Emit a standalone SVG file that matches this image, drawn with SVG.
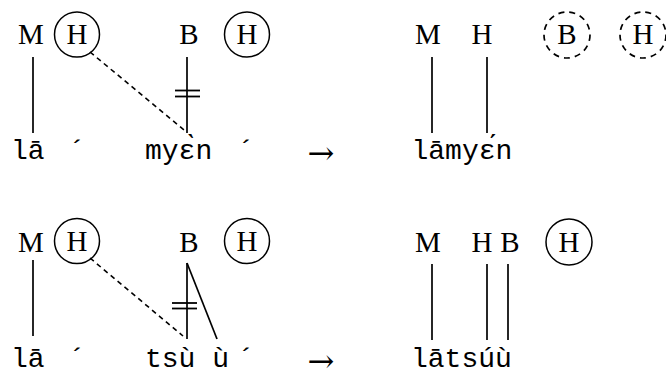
<svg xmlns="http://www.w3.org/2000/svg" width="666" height="374" viewBox="0 0 666 374">
  <style>
    .tone { font-family: "Liberation Serif", "DejaVu Serif", serif; font-size: 29px; fill: #000; text-anchor: middle; }
    .seg { font-family: "Liberation Mono", "DejaVu Sans Mono", monospace; font-size: 28px; fill: #000; }
    .acc { font-family: "Liberation Mono", "DejaVu Sans Mono", monospace; font-size: 28px; fill: #000; text-anchor: middle; }
    .arrow { font-family: "DejaVu Serif", "Liberation Serif", serif; font-size: 32px; fill: #000; text-anchor: middle; }
    .assoc { stroke: #000; stroke-width: 1.7; fill: none; }
    .delink { stroke: #000; stroke-width: 1.8; fill: none; }
    .spread { stroke: #000; stroke-width: 1.6; fill: none; stroke-dasharray: 5 4; }
    .float { stroke: #000; stroke-width: 1.5; fill: none; }
    .lost { stroke: #000; stroke-width: 1.7; fill: none; stroke-dasharray: 6 5; }
  </style>

  <!-- Row 1: lā + myɛ̀n -->
  <g id="r1-M"><text class="tone" x="31" y="44">M</text></g>
  <g id="r1-H1"><circle class="float" cx="77" cy="34.5" r="22.5"/><text class="tone" x="77" y="44">H</text></g>
  <g id="r1-B"><text class="tone" x="189" y="44">B</text></g>
  <g id="r1-H2"><circle class="float" cx="247" cy="34.5" r="22.5"/><text class="tone" x="247" y="44">H</text></g>
  <g id="r1-la"><text class="seg" x="11" y="159">lā</text></g>
  <g id="r1-acc1"><text class="acc" x="77" y="159">´</text></g>
  <g id="r1-myen"><text class="seg" x="145" y="159">myɛ̀n</text></g>
  <g id="r1-acc2"><text class="acc" x="246" y="159">´</text></g>
  <g id="r1-arrow"><text class="arrow" x="321" y="164">→</text></g>

  <g id="r1-out-M"><text class="tone" x="428" y="44">M</text></g>
  <g id="r1-out-H"><text class="tone" x="482" y="44">H</text></g>
  <g id="r1-out-B"><circle class="lost" cx="567" cy="35" r="23"/><text class="tone" x="567" y="44">B</text></g>
  <g id="r1-out-H2"><circle class="lost" cx="643" cy="35" r="23"/><text class="tone" x="643" y="44">H</text></g>
  <g id="r1-out-word"><text class="seg" x="411.5" y="159">lāmyɛ́n</text></g>

  <!-- Row 2: lā + tsù ù -->
  <g id="r2-M"><text class="tone" x="31" y="252">M</text></g>
  <g id="r2-H1"><circle class="float" cx="77" cy="241" r="22.5"/><text class="tone" x="77" y="251">H</text></g>
  <g id="r2-B"><text class="tone" x="189" y="252">B</text></g>
  <g id="r2-H2"><circle class="float" cx="247" cy="241" r="22.5"/><text class="tone" x="247" y="251">H</text></g>
  <g id="r2-la"><text class="seg" x="11" y="367">lā</text></g>
  <g id="r2-acc1"><text class="acc" x="77" y="367">´</text></g>
  <g id="r2-tsuu"><text class="seg" x="145" y="367">tsù ù</text></g>
  <g id="r2-acc2"><text class="acc" x="246" y="367">´</text></g>
  <g id="r2-arrow"><text class="arrow" x="321" y="372">→</text></g>

  <g id="r2-out-M"><text class="tone" x="428" y="252">M</text></g>
  <g id="r2-out-H"><text class="tone" x="482" y="252">H</text></g>
  <g id="r2-out-B"><text class="tone" x="510" y="252">B</text></g>
  <g id="r2-out-H2"><circle class="float" cx="569" cy="242" r="23"/><text class="tone" x="569" y="252">H</text></g>
  <g id="r2-out-word"><text class="seg" x="411" y="367">lātsúù</text></g>

  <!-- association lines -->
  <g id="connectors">
    <!-- row 1 input -->
    <line class="assoc" x1="33" y1="57" x2="33" y2="133"/>
    <line class="assoc" x1="187" y1="57" x2="187" y2="133"/>
    <line class="delink" x1="175" y1="90.5" x2="200" y2="90.5"/>
    <line class="delink" x1="175" y1="96.5" x2="200" y2="96.5"/>
    <line class="spread" x1="90" y1="52" x2="184" y2="130"/>
    <!-- row 1 output -->
    <line class="assoc" x1="432" y1="57" x2="432" y2="133"/>
    <line class="assoc" x1="487" y1="57" x2="487" y2="133"/>
    <!-- row 2 input -->
    <line class="assoc" x1="33" y1="260" x2="33" y2="336"/>
    <line class="assoc" x1="187" y1="263" x2="187" y2="339"/>
    <line class="assoc" x1="187" y1="263" x2="217" y2="339"/>
    <line class="delink" x1="172" y1="303" x2="197" y2="303"/>
    <line class="delink" x1="172" y1="308.5" x2="197" y2="308.5"/>
    <line class="spread" x1="90" y1="258" x2="183" y2="336"/>
    <!-- row 2 output -->
    <line class="assoc" x1="432" y1="264" x2="432" y2="340"/>
    <line class="assoc" x1="487" y1="264" x2="487" y2="340"/>
    <line class="assoc" x1="508" y1="264" x2="508" y2="340"/>
  </g>
</svg>
